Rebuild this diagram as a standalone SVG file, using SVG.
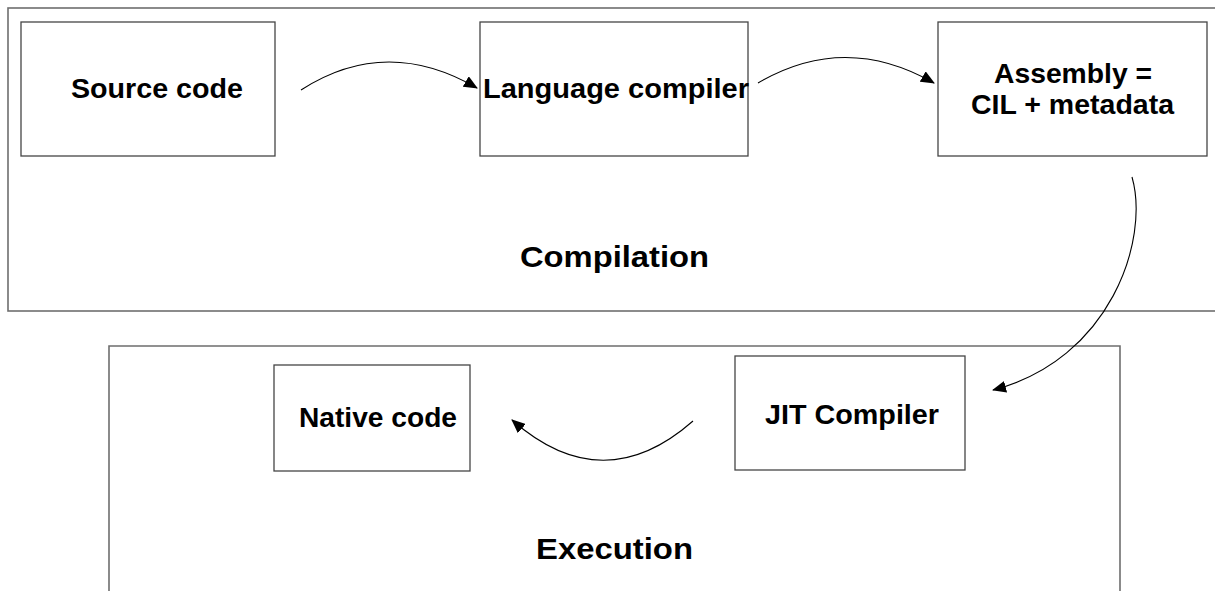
<svg xmlns="http://www.w3.org/2000/svg" width="1215" height="591" viewBox="0 0 1215 591">
  <style>
    .frame { fill: none; stroke: #6e6e6e; stroke-width: 1.6; }
    .box { fill: #ffffff; stroke: #454545; stroke-width: 1.3; }
    .label { font-family: "Liberation Sans", Arial, sans-serif; font-weight: bold; font-size: 27px; fill: #000; text-anchor: middle; }
    .title { font-family: "Liberation Sans", Arial, sans-serif; font-weight: bold; font-size: 30px; fill: #000; text-anchor: middle; }
    .flow { fill: none; stroke: #000; stroke-width: 1.1; }
  </style>
  <defs>
    <marker id="head" markerUnits="userSpaceOnUse" markerWidth="14" markerHeight="12" viewBox="0 0 14 12" refX="13" refY="6" orient="auto">
      <path d="M0,0 L14,6 L0,12 Z" fill="#000"/>
    </marker>
  </defs>
  <rect width="1215" height="591" fill="#ffffff"/>

  <!-- stage frames -->
  <g id="compilation">
    <rect class="frame" x="8" y="8" width="1230" height="303"/>
    <text class="title" x="614.5" y="267" textLength="189" lengthAdjust="spacingAndGlyphs">Compilation</text>
  </g>
  <g id="execution">
    <path class="frame" d="M109,591 V346 H1120 V591"/>
    <text class="title" x="614.5" y="559" textLength="157" lengthAdjust="spacingAndGlyphs">Execution</text>
  </g>

  <!-- steps -->
  <g id="source-code">
    <rect class="box" x="21" y="22" width="254" height="134"/>
    <text class="label" x="157" y="98" textLength="172" lengthAdjust="spacingAndGlyphs">Source code</text>
  </g>
  <g id="language-compiler">
    <rect class="box" x="480" y="22" width="268" height="134"/>
    <text class="label" x="616" y="98" textLength="266" lengthAdjust="spacingAndGlyphs">Language compiler</text>
  </g>
  <g id="assembly">
    <rect class="box" x="938" y="22" width="269" height="134"/>
    <text class="label" x="1073" y="83" textLength="158" lengthAdjust="spacingAndGlyphs">Assembly =</text>
    <text class="label" x="1072.5" y="114" textLength="203" lengthAdjust="spacingAndGlyphs">CIL + metadata</text>
  </g>
  <g id="jit-compiler">
    <rect class="box" x="735" y="356" width="230" height="114"/>
    <text class="label" x="852" y="424" textLength="174" lengthAdjust="spacingAndGlyphs">JIT Compiler</text>
  </g>
  <g id="native-code">
    <rect class="box" x="274" y="365" width="196" height="106"/>
    <text class="label" x="378" y="427" textLength="158" lengthAdjust="spacingAndGlyphs">Native code</text>
  </g>

  <!-- connectors -->
  <g id="connectors">
    <path class="flow" d="M301,90 Q386,35 477,88" marker-end="url(#head)"/>
    <path class="flow" d="M758,83 Q845,32 934,83" marker-end="url(#head)"/>
    <path class="flow" d="M1132,177 C1150,240 1110,360 993,390" marker-end="url(#head)"/>
    <path class="flow" d="M693,421 Q603,500 512,420" marker-end="url(#head)"/>
  </g>
</svg>
